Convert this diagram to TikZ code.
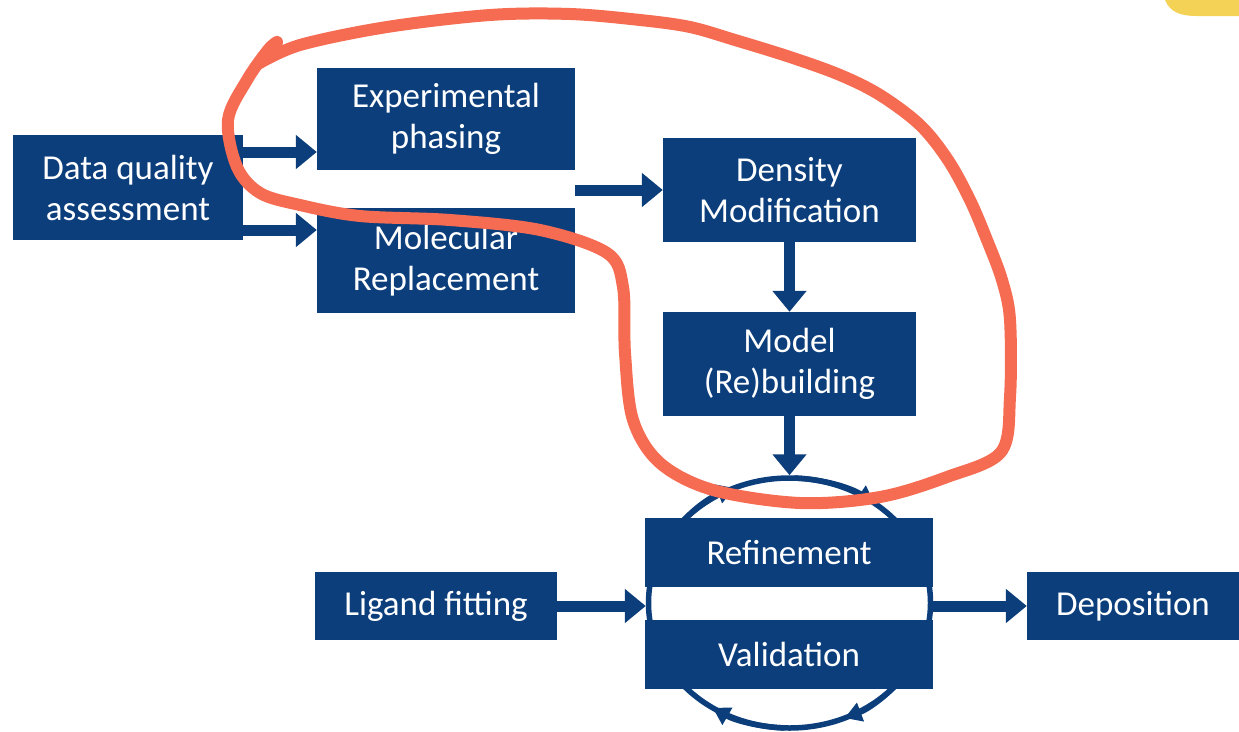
\documentclass[tikz,border=0pt]{standalone}
\usepackage{fontspec}
\setmainfont{Carlito}
\usetikzlibrary{arrows.meta,shapes.geometric}
\definecolor{boxblue}{RGB}{12,62,124}
\definecolor{penred}{RGB}{245,108,82}
\definecolor{tabyellow}{RGB}{244,210,85}
\begin{document}
\begin{tikzpicture}[x=1pt,y=-1pt,
	box/.style={fill=boxblue,text=white,align=center,inner sep=0pt,font=\fontsize{35}{41}\selectfont},
	flow/.style={boxblue,line width=11pt,-{Triangle[length=21pt,width=33pt]}},
	cyc/.style={boxblue,line width=5.5pt,-{Triangle[length=17pt,width=19pt]}},
	pen/.style={penred,line width=12pt,line cap=round,line join=round}]
	\useasboundingbox (0,0) rectangle (1239,731);
	\fill [tabyellow] (1165,0) .. controls (1170,12) and (1180,16) .. (1197,16) -- (1239,16) -- (1239,0) -- cycle;
	\node [draw=boxblue,line width=5.5pt,ellipse,inner sep=0pt,minimum width=282pt,minimum height=250pt] (loop) at (789.5,603) {};
	\draw [cyc] (loop.center) ++(-150:141 and 125) arc [start angle=-150,end angle=-113,x radius=141,y radius=125];
	\draw [cyc] (loop.center) ++(-88:141 and 125) arc [start angle=-88,end angle=-53,x radius=141,y radius=125];
	\draw [cyc] (loop.center) ++(35:141 and 125) arc [start angle=35,end angle=67,x radius=141,y radius=125];
	\draw [cyc] (loop.center) ++(92:141 and 125) arc [start angle=92,end angle=123,x radius=141,y radius=125];
	\node [box,minimum width=230pt,minimum height=105pt] (dqa) at (128,187.5) {Data quality\\assessment};
	\node [box,minimum width=258pt,minimum height=102pt] (exp) at (446,119) {Experimental\\phasing};
	\node [box,minimum width=258pt,minimum height=105pt] (mr) at (446,260.5) {Molecular\\Replacement};
	\node [box,minimum width=253pt,minimum height=104pt] (dm) at (789.5,190) {Density\\Modification};
	\node [box,minimum width=253pt,minimum height=104pt] (mb) at (789.5,364) {Model\\(Re)building};
	\node [box,minimum width=288pt,minimum height=69pt] (ref) at (789,552.5) {Refinement};
	\node [box,minimum width=288pt,minimum height=69pt] (val) at (789,654.5) {Validation};
	\node [box,minimum width=242pt,minimum height=68pt] (lig) at (436,606) {Ligand fitting};
	\node [box,minimum width=212pt,minimum height=68pt] (dep) at (1133,606) {Deposition};
	\draw [flow] (dqa.east |- 0,152) -- (exp.west |- 0,152);
	\draw [flow] (dqa.east |- 0,230) -- (mr.west |- 0,230);
	\draw [flow] (exp.east |- dm.west) -- (dm.west);
	\draw [flow] (dm.south) -- (mb.north);
	\draw [flow] (mb.south) -- (loop.north);
	\draw [flow] (lig.east) -- (loop.west |- lig.east);
	\draw [flow] (loop.east |- dep.west) -- (dep.west);
	\draw [pen] plot [smooth,tension=0.55] coordinates {(258,64) (300,45) (387,27) (490,15) (570,14) (640,20) (690,27) (735,40) (790,57) (840,75) (880,95) (920,125) (948,160) (970,200) (987,240) (1002,280) (1010,320) (1010,397) (1001,452) (947,477) (880,497) (800,503) (713,490) (660,463) (633,420) (625,353) (623,287) (607,253) (540,230) (450,220) (360,216) (300,205) (260,193) (237,167) (228,120) (247,80) (268,50) (277,42)};
\end{tikzpicture}
\end{document}
